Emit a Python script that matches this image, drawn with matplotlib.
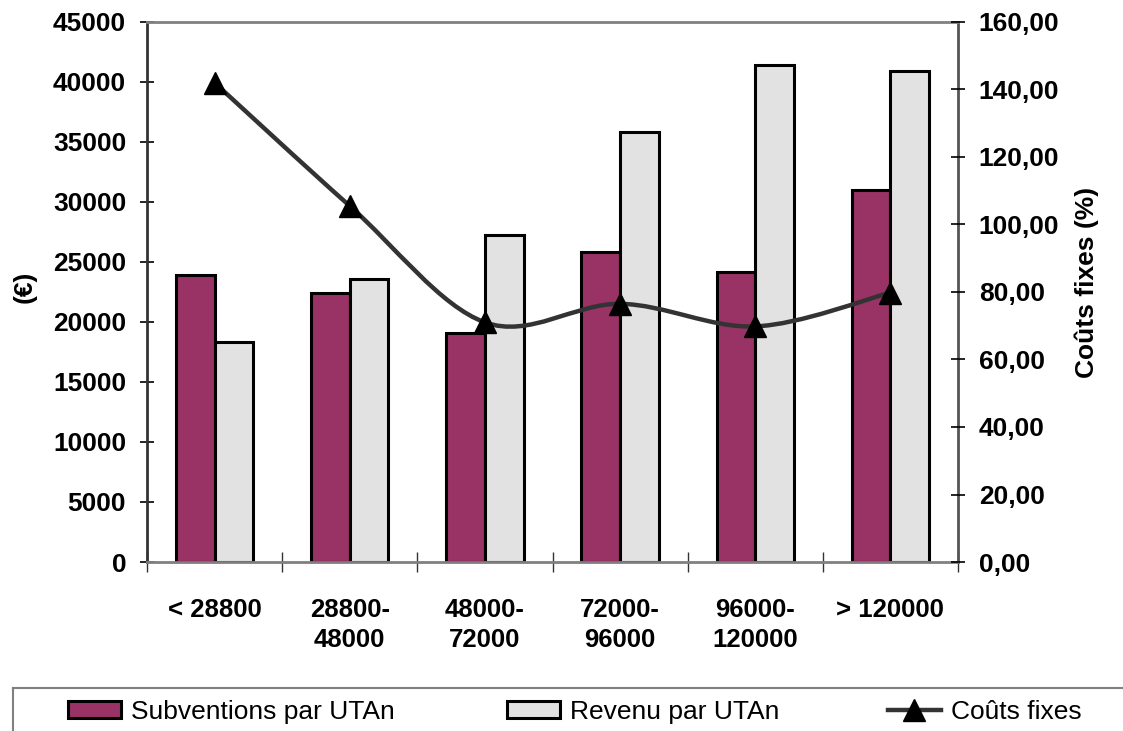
import matplotlib
matplotlib.use("Agg")
import matplotlib.pyplot as plt
import numpy as np
from matplotlib.path import Path
from matplotlib.patches import PathPatch, Patch
from matplotlib.lines import Line2D

plt.rcParams['font.family'] = ['Liberation Sans', 'DejaVu Sans']

categories = ["< 28800", "28800-\n48000", "48000-\n72000", "72000-\n96000", "96000-\n120000", "> 120000"]
subventions = [23900, 22400, 19100, 25850, 24150, 31000]
revenu = [18300, 23600, 27250, 35800, 41400, 40900]
couts_fixes = [142.0, 105.5, 71.0, 76.5, 69.8, 79.8]

left_ticks = list(range(0, 45001, 5000))
right_ticks = list(range(0, 161, 20))

W, H = 1123, 731
fig = plt.figure(figsize=(W / 100, H / 100), dpi=100)
ax = fig.add_axes([147 / W, 1 - 562 / H, (958 - 147) / W, (562 - 22) / H])
ax2 = ax.twinx()

n = len(categories)
x = np.arange(n)
bw = 0.2857
ax.bar(x - bw / 2, subventions, bw, color='#993366', edgecolor='black', linewidth=2.2, zorder=2)
ax.bar(x + bw / 2, revenu, bw, color='#e2e2e2', edgecolor='black', linewidth=2.2, zorder=2)

ax.set_xlim(-0.5, n - 0.5)
ax.set_ylim(0, 45000)
ax.set_yticks(left_ticks)
ax.set_yticklabels([str(v) for v in left_ticks], fontsize=19, fontweight='bold')
ax.tick_params(axis='y', direction='inout', length=10, width=1.2, pad=10, colors='black')

# x ticks: boundaries (major, no labels) + centers (minor, labels)
ax.set_xticks(np.arange(-0.5, n, 1.0))
ax.set_xticklabels([])
ax.set_xticks(x, minor=True)
ax.set_xticklabels(categories, minor=True, fontsize=18.5, fontweight='bold', linespacing=1.3)
ax.tick_params(axis='x', which='major', direction='inout', length=14, width=1.0, colors='#333333')
ax.tick_params(axis='x', which='minor', length=0, pad=26)

for s in ['top', 'bottom']:
    ax.spines[s].set_color('#808080')
    ax.spines[s].set_linewidth(2)
ax.spines['left'].set_color('#333333')
ax.spines['left'].set_linewidth(2)
ax.spines['right'].set_color('#555555')
ax.spines['right'].set_linewidth(2)

ax2.set_ylim(0, 160)
ax2.set_yticks(right_ticks)
ax2.set_yticklabels([f"{v},00" for v in right_ticks], fontsize=19, fontweight='bold')
ax2.tick_params(axis='y', direction='inout', length=10, width=1.2, pad=10)
for s in ax2.spines.values():
    s.set_visible(False)

# smooth line (Bezier through the points, Catmull-Rom style tangents)
pts = np.column_stack([x, couts_fixes]).astype(float)
verts = [tuple(pts[0])]
codes = [Path.MOVETO]
for i in range(n - 1):
    p0 = pts[i - 1] if i > 0 else pts[i]
    p1 = pts[i]
    p2 = pts[i + 1]
    p3 = pts[i + 2] if i + 2 < n else pts[i + 1]
    c1 = p1 + (p2 - p0) / 6.0
    c2 = p2 - (p3 - p1) / 6.0
    verts += [tuple(c1), tuple(c2), tuple(p2)]
    codes += [Path.CURVE4, Path.CURVE4, Path.CURVE4]
ax2.add_patch(PathPatch(Path(verts, codes), facecolor='none', edgecolor='#333333', linewidth=3.2, zorder=3))
ax2.plot(x, couts_fixes, linestyle='none', marker='^', markersize=16, color='black', zorder=4)

# axis titles
fig.text(25 / W, 1 - 287 / H, "(€)", rotation=90, ha='center', va='center', fontsize=19, fontweight='bold')
fig.text(1087 / W, 1 - 282 / H, "Coûts fixes (%)", rotation=90, ha='center', va='center', fontsize=19, fontweight='bold')

# legend box border (top and left only visible)
fig.add_artist(Line2D([13 / W, 1.0], [1 - 688 / H, 1 - 688 / H], color='#808080', linewidth=1.5, transform=fig.transFigure))
fig.add_artist(Line2D([13 / W, 13 / W], [1 - 688 / H, 0], color='#808080', linewidth=1.5, transform=fig.transFigure))

handles = [
    Patch(facecolor='#993366', edgecolor='black', linewidth=2.2),
    Patch(facecolor='#e2e2e2', edgecolor='black', linewidth=2.2),
    Line2D([], [], color='#333333', linewidth=3.2, marker='^', markersize=16, markerfacecolor='black', markeredgecolor='black'),
]
labels = ["Subventions par UTAn", "Revenu par UTAn", "Coûts fixes"]
xs = [68, 507, 888]
for h, l, xx in zip(handles, labels, xs):
    fig.legend([h], [l], loc='center left', bbox_to_anchor=(xx / W, 1 - 712 / H), frameon=False,
               fontsize=19, handlelength=2.0, handleheight=0.6, handletextpad=0.4,
               borderpad=0, borderaxespad=0)

fig.savefig("out.png", dpi=100)
